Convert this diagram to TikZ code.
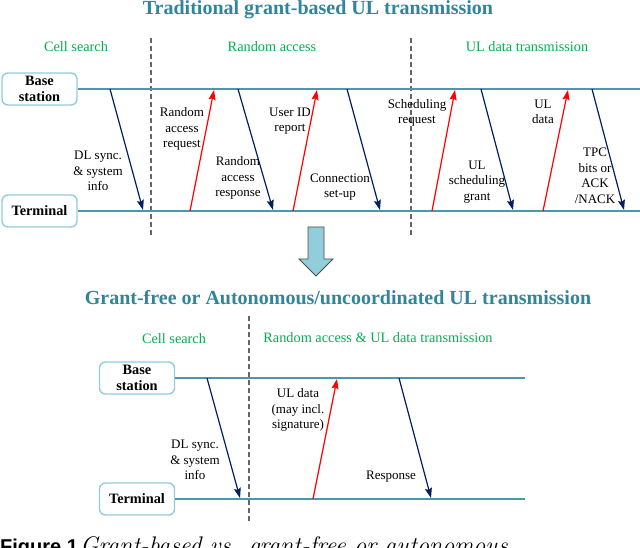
\documentclass[tikz,border=0pt]{standalone}
\usepackage{fontspec}
\setmainfont{Liberation Serif}
\newfontfamily\capsans{Liberation Sans}
\usetikzlibrary{arrows.meta}
\definecolor{titlecol}{RGB}{49,132,155}
\definecolor{phasecol}{RGB}{0,176,80}
\definecolor{linecol}{RGB}{75,152,172}
\definecolor{boxcol}{RGB}{146,205,222}
\definecolor{navy}{RGB}{0,32,96}
\definecolor{bigarrow}{RGB}{146,205,220}
\tikzset{
  titletxt/.style={font=\bfseries\fontsize{20}{24}\selectfont, text=titlecol, inner sep=0pt},
  phase/.style={font=\fontsize{14.3}{17}\selectfont, text=phasecol, inner sep=0pt},
  entity/.style={draw=boxcol, line width=1.4pt, rounded corners=6pt, fill=white,
     minimum width=75pt, minimum height=32pt, inner sep=0pt, align=center,
     font=\bfseries\fontsize{14.3}{15.5}\selectfont},
  tline/.style={draw=linecol, line width=1.7pt},
  sep/.style={draw=black!60, line width=1.1pt, dash pattern=on 5pt off 3pt},
  dnmsg/.style={draw=navy, line width=1.2pt, -{Stealth[length=10pt,width=7pt,inset=1.5pt]}},
  upmsg/.style={draw=red, line width=1.2pt, -{Stealth[length=10pt,width=7pt,inset=1.5pt]}},
  lbl/.style={font=\fontsize{13}{15.5}\selectfont, align=center, inner sep=0pt},
}
\begin{document}
\begin{tikzpicture}[x=1pt,y=-1pt]
\useasboundingbox (0,0) rectangle (640,548);
\clip (0,0) rectangle (640,548);
% ---------- top part ----------
\node[titletxt] (t1) at (318,10) {Traditional grant-based UL transmission};
\coordinate (s1a) at (151,38); \coordinate (s1b) at (151,237);
\coordinate (s2a) at (411,38); \coordinate (s2b) at (411,237);
\draw[sep] (s1a) -- (s1b);
\draw[sep] (s2a) -- (s2b);
\node[phase] (p1) at (76,47) {Cell search};
\node[phase] (p2) at (272,47) {Random access};
\node[phase] (p3) at (527,47) {UL data transmission};

\node[entity] (bs1) at (39.5,89) {Base\\station};
\node[entity] (tm1) at (39.5,211) {Terminal};
\coordinate (bs1e) at (640,89);
\coordinate (tm1e) at (640,211);
\draw[tline] (bs1) -- (bs1e);
\draw[tline] (tm1) -- (tm1e);

\coordinate (a1s) at (110,89);  \coordinate (a1e) at (143,210);
\coordinate (a2s) at (190,211); \coordinate (a2e) at (214,90);
\coordinate (a3s) at (238,89);  \coordinate (a3e) at (273,210);
\coordinate (a4s) at (293,211); \coordinate (a4e) at (317,90);
\coordinate (a5s) at (347,89);  \coordinate (a5e) at (380,210);
\coordinate (a6s) at (432,211); \coordinate (a6e) at (455,90);
\coordinate (a7s) at (481,89);  \coordinate (a7e) at (513,210);
\coordinate (a8s) at (543,211); \coordinate (a8e) at (568,90);
\coordinate (a9s) at (592,89);  \coordinate (a9e) at (624,210);
\draw[dnmsg] (a1s) -- (a1e);
\draw[upmsg] (a2s) -- (a2e);
\draw[dnmsg] (a3s) -- (a3e);
\draw[upmsg] (a4s) -- (a4e);
\draw[dnmsg] (a5s) -- (a5e);
\draw[upmsg] (a6s) -- (a6e);
\draw[dnmsg] (a7s) -- (a7e);
\draw[upmsg] (a8s) -- (a8e);
\draw[dnmsg] (a9s) -- (a9e);

\node[lbl] (l1) at (98,171) {DL sync.\\\& system\\info};
\node[lbl] (l2) at (182,129) {Random\\access\\request};
\node[lbl] (l3) at (238,178) {Random\\access\\response};
\node[lbl] (l4) at (290,121) {User ID\\report};
\node[lbl] (l5) at (340,187) {Connection\\set-up};
\node[lbl] (l6) at (417,113) {Scheduling\\request};
\node[lbl] (l7) at (477,182) {UL\\scheduling\\grant};
\node[lbl] (l8) at (543,112) {UL\\data};
\node[lbl] (l9) at (595,176) {TPC\\bits or\\ACK\\/NACK};

% ---------- big arrow ----------
\draw[draw=black!70, line width=0.8pt, fill=bigarrow]
  (308,227) -- (324,227) -- (324,259) -- (333,259) -- (316,276) -- (299,259) -- (308,259) -- cycle;

% ---------- bottom part ----------
\node[titletxt] (t2) at (338,298) {Grant-free or Autonomous/uncoordinated UL transmission};
\coordinate (s3a) at (249,316); \coordinate (s3b) at (249,521);
\draw[sep] (s3a) -- (s3b);
\node[phase] (p4) at (174,339) {Cell search};
\node[phase] (p5) at (378,338) {Random access \& UL data transmission};

\node[entity] (bs2) at (137,378) {Base\\station};
\node[entity] (tm2) at (137,499) {Terminal};
\coordinate (bs2e) at (525,378);
\coordinate (tm2e) at (525,499);
\draw[tline] (bs2) -- (bs2e);
\draw[tline] (tm2) -- (tm2e);

\coordinate (b1s) at (207,378); \coordinate (b1e) at (240,498);
\coordinate (b2s) at (313,499); \coordinate (b2e) at (337,379);
\coordinate (b3s) at (399,378); \coordinate (b3e) at (431,498);
\draw[dnmsg] (b1s) -- (b1e);
\draw[upmsg] (b2s) -- (b2e);
\draw[dnmsg] (b3s) -- (b3e);

\node[lbl] (m1) at (195,460) {DL sync.\\\& system\\info};
\node[lbl] (m2) at (298,410) {UL data\\(may incl.\\signature)};
\node[lbl] (m3) at (391,477) {Response};

% ---------- caption (cut off) ----------
\node[anchor=base west, inner sep=0pt] (cap) at (0,553)
  {{\capsans\bfseries\fontsize{20}{24}\selectfont Figure 1} {\fontfamily{lmr}\itshape\fontsize{24}{28}\selectfont Grant-based vs. grant-free or autonomous}};
\end{tikzpicture}
\end{document}
